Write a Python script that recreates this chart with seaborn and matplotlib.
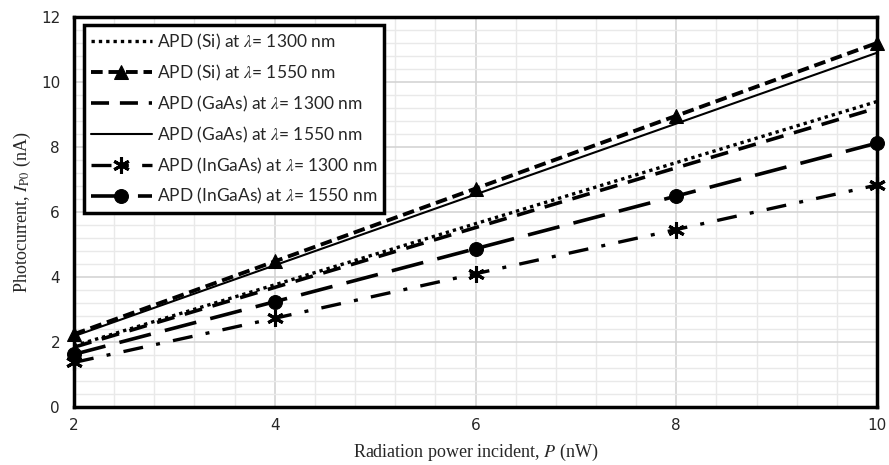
import matplotlib
matplotlib.use("Agg")
import matplotlib.pyplot as plt
from matplotlib.ticker import MultipleLocator
import seaborn as sns
import pandas as pd

power = [2, 4, 6, 8, 10]
si_1300 = [1.88, 3.76, 5.64, 7.52, 9.40]
si_1550 = [2.24, 4.48, 6.72, 8.96, 11.20]
gaas_1300 = [1.84, 3.68, 5.52, 7.36, 9.20]
gaas_1550 = [2.18, 4.36, 6.54, 8.72, 10.90]
ingaas_1300 = [1.37, 2.73, 4.10, 5.46, 6.83]
ingaas_1550 = [1.62, 3.24, 4.87, 6.49, 8.12]

labels = [
    r"APD (Si) at $\lambda$= 1300 nm",
    r"APD (Si) at $\lambda$= 1550 nm",
    r"APD (GaAs) at $\lambda$= 1300 nm",
    r"APD (GaAs) at $\lambda$= 1550 nm",
    r"APD (InGaAs) at $\lambda$= 1300 nm",
    r"APD (InGaAs) at $\lambda$= 1550 nm",
]
series = [si_1300, si_1550, gaas_1300, gaas_1550, ingaas_1300, ingaas_1550]

styles = [
    dict(linestyle=(0, (1, 1.2)), linewidth=2.4, marker=None),
    dict(linestyle=(0, (3, 1.5)), linewidth=2.8, marker="^", markersize=10),
    dict(linestyle=(0, (5, 3)), linewidth=2.6, marker=None),
    dict(linestyle="-", linewidth=1.5, marker=None),
    dict(linestyle=(0, (6, 4, 1.2, 4)), linewidth=2.4, marker=(6, 2, 0), markersize=12, markeredgewidth=2.2),
    dict(linestyle=(0, (9, 4)), linewidth=2.6, marker="o", markersize=10),
]

sns.set_style("white")
plt.rcParams["mathtext.fontset"] = "stix"

fig = plt.figure(figsize=(8.89, 4.65), dpi=100)
ax = fig.add_axes([74 / 889, 1 - 407 / 465, (877 - 74) / 889, (407 - 17) / 465])

for vals, lab, st in zip(series, labels, styles):
    df = pd.DataFrame({"P": power, "I": vals})
    kw = dict(st)
    sns.lineplot(data=df, x="P", y="I", ax=ax, color="black", label=lab,
                 markeredgecolor="black", clip_on=False, **kw)

ax.set_xlim(2, 10)
ax.set_ylim(0, 12)
ax.xaxis.set_major_locator(MultipleLocator(2))
ax.yaxis.set_major_locator(MultipleLocator(2))
ax.xaxis.set_minor_locator(MultipleLocator(0.4))
ax.yaxis.set_minor_locator(MultipleLocator(0.4))
ax.grid(which="major", color="#d4d4d4", linewidth=1.2)
ax.grid(which="minor", color="#e9e9e9", linewidth=1.0)
ax.set_axisbelow(True)
ax.tick_params(which="both", length=0, labelfontfamily="DejaVu Sans", labelsize=11)
ax.tick_params(axis="x", pad=8)
ax.tick_params(axis="y", pad=10)
for sp in ax.spines.values():
    sp.set_visible(True)
    sp.set_color("black")
    sp.set_linewidth(2.5)

ax.set_xlabel(r"Radiation power incident, $\mathit{P}$ (nW)", fontfamily="Liberation Serif",
              fontsize=13, labelpad=6)
ax.set_ylabel(r"Photocurrent, $\mathit{I}_{\mathrm{P0}}$ (nA)", fontfamily="Liberation Serif",
              fontsize=13, labelpad=6)

leg = ax.legend(loc="upper left", bbox_to_anchor=(0.006, 0.993), frameon=True, fancybox=False,
                edgecolor="black", framealpha=1, prop={"family": "Lato", "size": 12.5},
                handlelength=3.5, handletextpad=0.3, borderpad=0.4, labelspacing=0.62,
                borderaxespad=0.3)
leg.get_frame().set_linewidth(2.5)

fig.savefig("out.png", dpi=100)
